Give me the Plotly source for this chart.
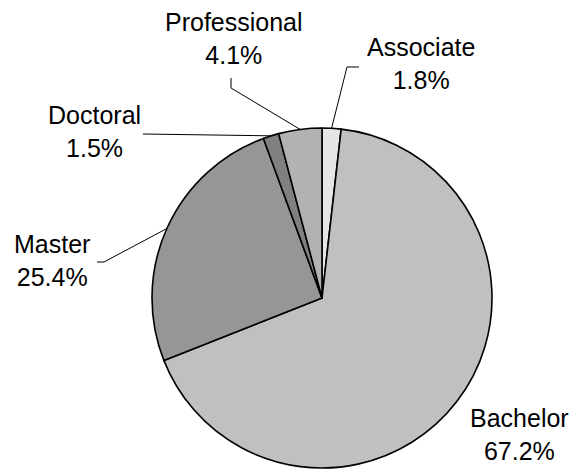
import math
import plotly.graph_objects as go

categories = ["Associate", "Bachelor", "Master", "Doctoral", "Professional"]
shares = [1.8, 67.2, 25.4, 1.5, 4.1]
colors = ["#E6E6E6", "#C0C0C0", "#969696", "#808080", "#B2B2B2"]

# layout (pixels)
W, H = 573, 470
CX, CY, R = 322, 298, 170
# label centre and elbow points for the leader lines
label_pos = {
    "Associate": (421, 64),
    "Bachelor": (519, 434),
    "Master": (52, 260),
    "Doctoral": (94, 131),
    "Professional": (234, 38),
}
elbows = {
    "Associate": [(347, 67), (359, 67)],
    "Bachelor": [],
    "Master": [(104, 262), (97, 262)],
    "Doctoral": [(143, 134)],
    "Professional": [(231, 88), (231, 78)],
}

def px(x):
    return x / W

def py(y):
    return 1 - y / H

fig = go.Figure(go.Pie(
    labels=categories, values=shares, sort=False, direction="clockwise",
    rotation=0, textinfo="none", hoverinfo="label+percent",
    marker=dict(colors=colors, line=dict(color="black", width=1.6)),
    domain=dict(x=[px(CX - R), px(CX + R)], y=[py(CY + R), py(CY - R)]),
    showlegend=False,
))

total = sum(shares)
cum = 0.0
shapes = []
annotations = []
for cat, v in zip(categories, shares):
    mid = (cum + v / 2) / total
    cum += v
    ang = 2 * math.pi * mid
    ex, ey = CX + R * math.sin(ang), CY - R * math.cos(ang)
    pts = [(ex, ey)] + elbows[cat]
    for (x0, y0), (x1, y1) in zip(pts[:-1], pts[1:]):
        shapes.append(dict(type="line", xref="paper", yref="paper",
                           x0=px(x0), y0=py(y0), x1=px(x1), y1=py(y1),
                           line=dict(color="black", width=1)))
    lx, ly = label_pos[cat]
    annotations.append(dict(
        x=px(lx), y=py(ly), xref="paper", yref="paper",
        text=f"{cat}<br>{v:.1f}%", showarrow=False,
        xanchor="center", yanchor="middle", align="center", borderpad=0,
        font=dict(family="Liberation Sans, Arial", size=25, color="black"),
    ))

fig.update_layout(
    width=W, height=H, margin=dict(l=0, r=0, t=0, b=0),
    paper_bgcolor="white", plot_bgcolor="white",
    shapes=shapes, annotations=annotations,
)
fig.write_html("out.html", config={"displayModeBar": False},
               post_script="document.body.style.margin='0';document.body.style.overflow='hidden';")
